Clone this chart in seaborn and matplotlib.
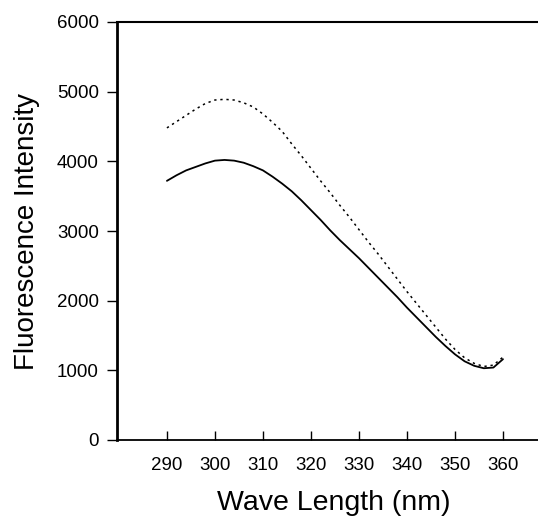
import numpy as np
import pandas as pd
import matplotlib
matplotlib.use("Agg")
import matplotlib.pyplot as plt
import seaborn as sns

# --- data ---
wavelength = [290, 292, 294, 296, 298, 300, 302, 304, 306, 308, 310, 312, 314,
              316, 318, 320, 322, 324, 326, 328, 330, 332, 334, 336, 338, 340,
              342, 344, 346, 348, 350, 352, 354, 356, 358, 360]
solid_intensity = [3720, 3800, 3870, 3920, 3970, 4010, 4020, 4010, 3980, 3930,
                   3870, 3780, 3680, 3570, 3440, 3300, 3160, 3010, 2870, 2740,
                   2610, 2470, 2330, 2190, 2050, 1900, 1760, 1620, 1480, 1350,
                   1230, 1130, 1065, 1030, 1040, 1160]
dotted_intensity = [4480, 4570, 4660, 4750, 4830, 4880, 4890, 4880, 4840, 4780,
                    4680, 4560, 4430, 4250, 4080, 3900, 3720, 3550, 3370, 3200,
                    3020, 2840, 2670, 2490, 2310, 2130, 1960, 1790, 1620, 1450,
                    1300, 1180, 1100, 1055, 1075, 1190]
x_ticks = [290, 300, 310, 320, 330, 340, 350, 360]
y_ticks = [0, 1000, 2000, 3000, 4000, 5000, 6000]

df = pd.DataFrame({"wl": wavelength, "solid": solid_intensity, "dotted": dotted_intensity})

sns.set_style("ticks")
plt.rcParams['font.family'] = ['Liberation Sans', 'DejaVu Sans']
plt.rcParams['text.color'] = 'black'
plt.rcParams['axes.labelcolor'] = 'black'

fig = plt.figure(figsize=(5.38, 5.2), dpi=100)
# right edge of the axes runs past the figure, as in the cropped reference
ax = fig.add_axes([117 / 538, 80 / 520, 434 / 538, 418 / 520])

sns.lineplot(data=df, x="wl", y="solid", ax=ax, color="black", linewidth=1.3)
sns.lineplot(data=df, x="wl", y="dotted", ax=ax, color="black", linewidth=1.1,
             linestyle=(0, (1.5, 2.5)))

ax.set_xlim(279.6, 370)
ax.set_ylim(0, 6000)
ax.set_xticks(x_ticks)
ax.set_yticks(y_ticks)

ax.spines["left"].set_linewidth(2.0)
ax.spines["bottom"].set_linewidth(1.3)
ax.spines["top"].set_linewidth(1.5)
ax.spines["right"].set_visible(False)
for s in ax.spines.values():
    s.set_color("black")

ax.tick_params(axis="x", direction="in", length=6.5, width=1, pad=12, labelsize=13.5, colors="black")
ax.tick_params(axis="y", direction="out", length=7, width=1, pad=6, labelsize=13.5, colors="black")

ax.set_xlabel("Wave Length (nm)", fontsize=20.5, labelpad=12, color="black")
ax.set_ylabel("Fluorescence Intensity", fontsize=20, labelpad=12, color="black")

fig.savefig("out.png", dpi=100)
